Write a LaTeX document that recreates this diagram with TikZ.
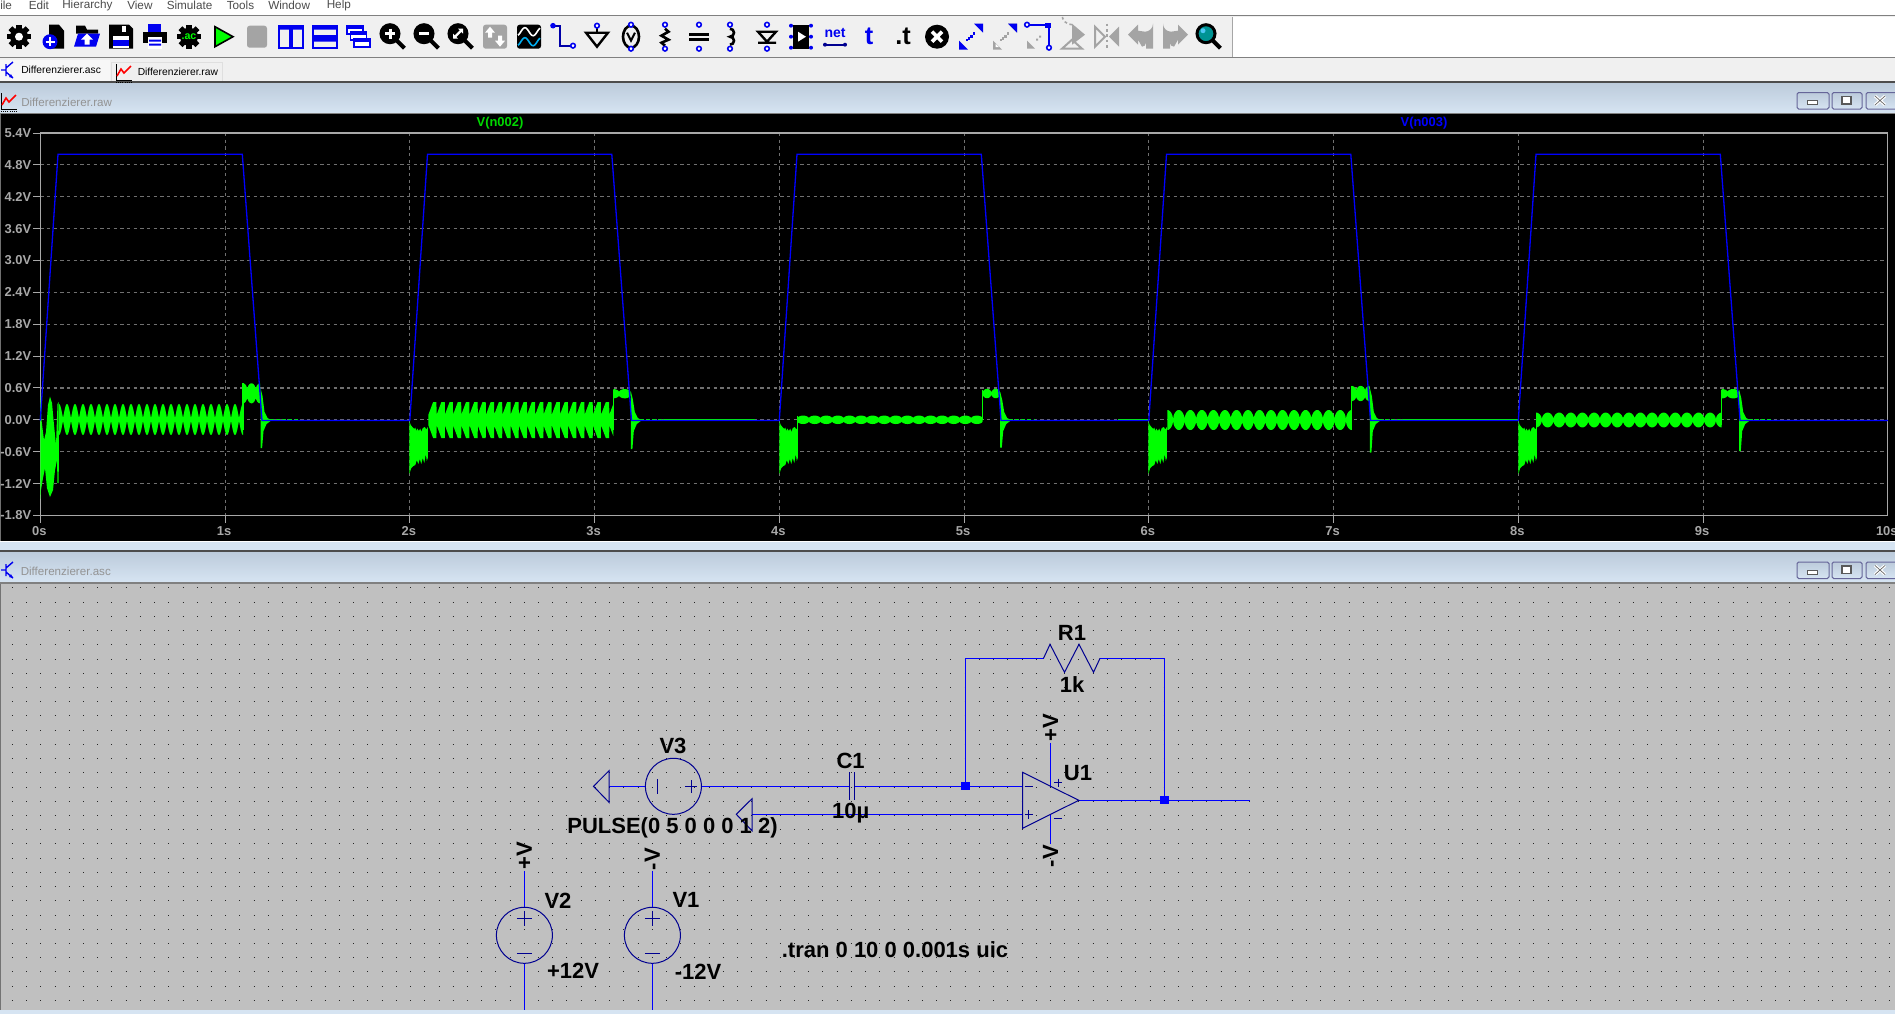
\documentclass[tikz,border=0pt]{standalone}
\usepackage{fontspec}
\setmainfont{Liberation Sans}
\definecolor{gtrace}{HTML}{00FF00}
\definecolor{btrace}{HTML}{0000FF}
\definecolor{axisgray}{HTML}{A8A8A8}
\definecolor{gridgray}{HTML}{707070}
\definecolor{sheet}{HTML}{C0C0C0}
\definecolor{barlo}{HTML}{D6E4F2}
\definecolor{barhi}{HTML}{BCCBDB}
\definecolor{tool}{HTML}{F0F0F0}
\definecolor{wirec}{HTML}{0000FF}
\definecolor{symc}{HTML}{000090}
\definecolor{icgray}{HTML}{A4A4A4}
\definecolor{icblue}{HTML}{0000F0}
\tikzset{
  px/.style={line width=#1*0.75pt},
  wirel/.style={draw=wirec,px=1.4},
  syml/.style={draw=symc,px=1},
  axlab/.style={text=axisgray,font=\fontsize{9.7}{10}\selectfont\bfseries,inner sep=0pt},
  schlab/.style={text=black,font=\fontsize{16.5}{17}\selectfont\bfseries,inner sep=0pt},
  gridl/.style={draw=gridgray,px=1.1,dash pattern=on 2.6pt off 2.4pt},
  junction/.style={fill=wirec,draw=none,minimum width=6.6pt,minimum height=6pt,inner sep=0pt,rectangle},
  srcbody/.style={circle,syml,minimum size=42pt,inner sep=0pt},
  pin/.style={draw=icblue,px=1.6,fill=white},
}
\newcommand\ic[2]{\begin{scope}[shift={({19+34*#1},36.7)}]#2\end{scope}}
\newcommand\pinat[2]{\draw[pin] (#1,#2) circle (2.3);}
\newcommand\gearic{\fill[black] (0,0) circle (9);\foreach \a in {0,45,...,315}{\fill[black,rotate=\a] (-2.7,-12) rectangle (2.7,-7);}}
\newcommand\maglass[1]{\fill[#1] (-3,-3) circle (9);\draw[black,px=3] (-3,-3) circle (9);\draw[black,px=4] (3.5,3.5)--(11.5,11.5);}
\newcommand\moveic[2]{\fill[#1] (12,-13)--(12,-4)--(3,-13)--cycle;\fill[#2] (-12,13)--(-12,4)--(-3,13)--cycle;\foreach \s in {-2,0.5,3}{\fill[#1] (\s-1.3,-\s-1.3) rectangle (\s+1.3,-\s+1.3);}\fill[#1] (-5.5,2.5) rectangle (-3.5,4.5);}
\newcommand\ploticon[2]{\begin{scope}[shift={(#1,#2)}]
  \draw[black,px=1] (-7,-8)--(-7,8)--(9,8);\draw[black,px=1,dash pattern=on 0.8pt off 0.8pt] (-7,10)--(9,10);
  \draw[red,px=1.6] (-6,4)--(-2,-3)--(1,1)--(8,-6);\end{scope}}
\newcommand\transicon[2]{\begin{scope}[shift={(#1,#2)}]
  \draw[icblue,px=1.4] (-7,0)--(-2,0) (-2,-6)--(-2,6) (-2,-2)--(5,-8) (-2,2)--(5,8);\fill[icblue] (5,8)--(1,7)--(3,4)--cycle;\end{scope}}
\newcommand\winbtns{%
  \foreach \a/\b in {1797/1829,1832/1862,1866/1897}{
    \shade[top color=barhi,bottom color=barlo,draw=gray!80!blue,px=1,rounded corners=1.2pt] (\a,92.5) rectangle (\b,109);}
  \fill[white,draw=gray!70!black,px=1] (1807,100.5) rectangle (1817,104.5);
  \draw[gray!70!black,px=1.6,fill=white] (1842,96.5) rectangle (1851,104);
  \draw[white,px=3] (1875,96)--(1885,105) (1885,96)--(1875,105);
  \draw[gray!80!black,px=0.7] (1875,96)--(1885,105) (1885,96)--(1875,105);}
\newcommand\beads[7]{\fill[gtrace] plot[domain=#1:#2,samples=320] ({\x},{#5-#6*(#7+(1-#7)*sqrt(abs(sin(180*(#3*(\x-#1)/(#2-#1)+#4)))))}) -- plot[domain=#2:#1,samples=320] ({\x},{#5+#6*(#7+(1-#7)*sqrt(abs(sin(180*(#3*(\x-#1)/(#2-#1)+#4)))))}) -- cycle;}
\newcommand\sbeads[7]{\fill[gtrace] plot[domain=#1:#2,samples=400] ({\x},{#5-#6*(#7+(1-#7)*abs(sin(180*(#3*(\x-#1)/(#2-#1)+#4))))}) -- plot[domain=#2:#1,samples=400] ({\x},{#5+#6*(#7+(1-#7)*abs(sin(180*(#3*(\x-#1)/(#2-#1)+#4))))}) -- cycle;}
\newcommand\burst[1]{\begin{scope}[shift={(#1,0)}]\fill[gtrace] (0,421.5)--(1.5,425)--(3.5,427.5)--(5,429)--(6,427.5)--(7,431)--(8,428.5)--(9.5,431)--(11,428.5)--(12,432)--(13.5,428)--(15.5,427)--(17,429.5)--(18.5,427)--(18.5,458)--(17.5,461)--(16.5,454)--(15,463)--(13.5,458)--(12,464)--(10.5,459)--(9,464)--(7.5,460)--(6,465)--(4,466)--(2,468)--(1,471)--(0.3,473.5)--(0,473.5)--cycle;\end{scope}}
\newcommand\spike[3]{\fill[gtrace] (#1,#2)--(#1+2,#2+8)--(#1+4,412)--(#1+7,418)--(#1+10,419.6)--(#1+10,421)--(#1+6,424)--(#1+3,431)--(#1+1.6,#3)--(#1,#3)--cycle;}
\newcommand\gdash[2]{\draw[gtrace,px=1.1,dash pattern=on 3pt off 1.6pt] (#1,419.4)--(#2,419.4);}
\newcommand\gsolid[2]{\draw[gtrace,px=1.1] (#1,419.4)--(#2,419.4);}
\begin{document}
\begin{tikzpicture}[x=0.75pt,y=-0.75pt]
\useasboundingbox (0,0) rectangle (1895,1014);
% ---------- menu, toolbar, tabs
\fill[white] (0,0) rectangle (1895,15);
\fill[tool] (0,15) rectangle (1895,82);
\draw[gray,px=1] (0,15.5)--(1895,15.5);
\fill[white] (1232,17) rectangle (1895,57);
\draw[gray!70,px=1] (1232,17)--(1232,57);
\draw[gray,px=1] (0,57.5)--(1895,57.5);
\foreach \n/\t/\xx in {m1/ile/0,m2/Edit/28.5,m3/Hierarchy/62,m4/View/127,m5/Simulate/166.5,m6/Tools/226.5,m7/Window/268,m8/Help/326.5}
  \node[anchor=west,inner sep=0pt,text=black!70,font=\fontsize{8.8}{9}\selectfont] (\n) at (\xx,5) {\t};
\fill[white!97!black] (0,60) rectangle (110,81.5);
\draw[gray!25,px=1] (111,62) rectangle (222,81.5);
\draw[black!70,px=1.4] (0,82)--(1895,82);
\transicon{8}{70}
\ploticon{123}{72}
\node[anchor=west,inner sep=0pt,text=black,font=\fontsize{7.7}{8}\selectfont] (tab1) at (21,70) {Differenzierer.asc};
\node[anchor=west,inner sep=0pt,text=black,font=\fontsize{7.7}{8}\selectfont] (tab2) at (137.5,72) {Differenzierer.raw};
% toolbar icons
\ic{0}{\gearic\fill[white] (0,0) circle (4);}
\ic{1}{\fill[black] (-4,-12)--(6,-12)--(11,-6)--(11,12)--(-4,12)--cycle;\fill[icblue] (-3,5) circle (7.5);\draw[white,px=2.2] (-7.5,5)--(1.5,5) (-3,0.5)--(-3,9.5);}
\ic{2}{\fill[black] (-11,-11)--(-2,-11)--(0,-7)--(11,-7)--(11,-3)--(-11,-3)--cycle;\fill[icblue] (-9,-3)--(13,-3)--(9,10)--(-13,10)--cycle;\fill[white] (0,-3)--(6,3)--(2.5,3)--(2.5,8)--(-2.5,8)--(-2.5,3)--(-6,3)--cycle;}
\ic{3}{\fill[black] (-12,-12)--(8,-12)--(12,-8)--(12,12)--(-12,12)--cycle;\fill[white] (-8,-1) rectangle (8,11);\fill[icblue] (-8,3) rectangle (8,9);\fill[white] (1,-11) rectangle (5,-5);}
\ic{4}{\fill[icblue] (-7,-13) rectangle (6,-5);\fill[black] (-12,-5) rectangle (12,6);\fill[white] (-7,0) rectangle (7,12);\fill[icblue] (-6,3) rectangle (6,5) (-6,7) rectangle (6,9);}
\ic{5}{\gearic\node[inner sep=0pt,text=gtrace,font=\fontsize{8}{8}\selectfont\bfseries] (icac) at (0,0) {.ac};}
\ic{6}{\fill[gtrace,draw=black,px=1.6] (-8,-10)--(10,0)--(-8,10)--cycle;}
\ic{7}{\fill[icgray,rounded corners=2pt] (-10,-11) rectangle (10,11);}
\ic{8}{\draw[icblue,px=1.8] (-12,-11) rectangle (-1,11) (1,-11) rectangle (12,11);\fill[icblue] (-12,-11) rectangle (-1,-7) (1,-11) rectangle (12,-7);}
\ic{9}{\draw[icblue,px=1.8] (-12,-11) rectangle (12,-1) (-12,1) rectangle (12,11);\fill[icblue] (-12,-11) rectangle (12,-7) (-12,1) rectangle (12,5);}
\ic{10}{\foreach \s in {0,1,2}{\fill[white,draw=icblue,px=1.6] (-12+\s*3.5,-11+\s*6.5) rectangle (4+\s*3.5,-3+\s*6.5);\fill[icblue] (-12+\s*3.5,-11+\s*6.5) rectangle (4+\s*3.5,-8+\s*6.5);}}
\ic{11}{\maglass{black}\draw[white,px=3] (-8,-3)--(2,-3) (-3,-8)--(-3,2);}
\ic{12}{\maglass{black}\draw[white,px=3] (-8,-3)--(2,-3);}
\ic{13}{\maglass{black}\draw[white,px=2.4] (-7,1)--(1,-7);\fill[white] (2,-8)--(-3,-8)--(2,-3)--cycle (-8,2)--(-3,2)--(-8,-3)--cycle;}
\ic{14}{\fill[icgray,rounded corners=2pt] (-12,-12) rectangle (12,12);\fill[white] (-5,-10)--(0,-4)--(-3,-4)--(-3,1)--(-7,1)--(-7,-4)--(-10,-4)--cycle (5,10)--(0,4)--(3,4)--(3,-1)--(7,-1)--(7,4)--(10,4)--cycle;}
\ic{15}{\fill[black,rounded corners=2pt] (-12,-12) rectangle (12,12);\draw[white,px=1.6] plot[domain=-11:11,samples=30] ({\x},{-5+4*sin(\x*22)});\draw[cyan,px=1.6] plot[domain=-11:11,samples=30] ({\x},{5+4*sin(\x*22)});}
\ic{16}{\draw[icblue!70!black,px=1.8] (-10,-11)--(-3,-11)--(-3,9)--(8,9);\fill[icblue] (-10,-11) circle (2.8);\pinat{10}{9}}
\ic{17}{\draw[black,px=1.6] (0,-9)--(0,-4);\draw[black,px=2.4] (-11,-4)--(11,-4)--(0,10)--cycle;\pinat{0}{-11}}
\ic{18}{\draw[black,px=2.6] (0,0) ellipse (8 and 11);\draw[black,px=2] (-4,-4)--(0,4)--(4,-4);\pinat{0}{-12}\pinat{0}{12}}
\ic{19}{\draw[black,px=2.6] (0,-8)--(3.5,-5)--(-3.5,-1)--(3.5,3)--(-3.5,6)--(0,9);\pinat{0}{-12}\pinat{0}{12}}
\ic{20}{\draw[black,px=2.6] (-10,-2.5)--(10,-2.5) (-10,2.5)--(10,2.5);\pinat{0}{-12}\pinat{0}{12}}
\ic{21}{\draw[black,px=2.6] (-3,-8) arc (-90:90:4) arc (-90:90:4);\pinat{-3}{-12}\pinat{-3}{12}}
\ic{22}{\draw[black,px=2.4] (-9,-5)--(9,-5)--(0,5)--cycle (-9,6)--(9,6);\pinat{0}{-12}\pinat{0}{12}}
\ic{23}{\fill[black] (-8,-12) rectangle (8,12);\fill[white] (-3,-5)--(5,0)--(-3,5)--cycle;\foreach \py in {-11,0,11}{\fill[icblue] (-10,\py) circle (2);\fill[icblue] (10,\py) circle (2);}}
\ic{24}{\node[inner sep=0pt,text=icblue,font=\fontsize{10.5}{10}\selectfont\bfseries] (icnet) at (0,-4) {net};\draw[symc,px=2.2] (-10,8)--(10,8);\fill[symc] (-10,8) circle (2) (10,8) circle (2);}
\ic{25}{\node[inner sep=0pt,text=icblue,font=\fontsize{19}{19}\selectfont\bfseries] (ict) at (0,0) {t};}
\ic{26}{\node[inner sep=0pt,text=black,font=\fontsize{19}{19}\selectfont\bfseries] (icdt) at (0,0) {.t};}
\ic{27}{\fill[black] (0,0) circle (12);\draw[white,px=3.6] (-5,-5)--(5,5) (-5,5)--(5,-5);}
\ic{28}{\moveic{icblue}{icblue}}
\ic{29}{\moveic{icgray}{icgray}\fill[icblue] (12,-13)--(12,-4)--(3,-13)--cycle;\fill[white] (-9.5,10.5)--(-9.5,7)--(-6,10.5)--cycle;}
\ic{30}{\draw[icblue,px=1.6] (-11,-12)--(10,-12)--(10,10);\fill[icblue] (6,-14) rectangle (12,-9);\pinat{-12}{-12}\pinat{10}{11}\fill[icgray] (-12,12)--(-12,4)--(-4,12)--cycle;\fill[icgray] (-3,2) rectangle (-1,4) (0,-1) rectangle (2,1);}
\ic{31}{\fill[icgray] (-1,-13)--(12,-2)--(-1,8)--cycle;\draw[icgray,px=1.6,dash pattern=on 2pt off 2pt] (-1,-12) arc (90:180:10);\draw[icgray,px=2] (-11,12)--(-1,3)--(9,12)--cycle;}
\ic{32}{\draw[icgray,px=2] (-12,-10)--(-2,0)--(-12,10)--cycle;\fill[icgray] (12,-10)--(2,0)--(12,10)--cycle;\draw[icgray,px=1.6,dash pattern=on 2pt off 2pt] (0,-13)--(0,13);}
\ic{33}{\fill[icgray] (-13,-2)--(-3,-12)--(-3,-6)--(4,-5) arc (90:0:8)--(12,12)--(5,12)--(5,6) arc (0:90:4)--(-3,3)--(-3,8)--cycle;}
\ic{34}{\fill[icgray] (13,-2)--(3,-12)--(3,-6)--(-4,-5) arc (90:180:8)--(-12,12)--(-5,12)--(-5,6) arc (180:90:4)--(3,3)--(3,8)--cycle;}
\ic{35}{\fill[teal!85!cyan] (-3,-3) circle (8);\draw[black,px=3] (-3,-3) circle (9);\draw[black,px=4] (3.5,3.5)--(11.5,11.5);\fill[cyan!70] (-6,-6) circle (2.5);}
% ---------- waveform window
\shade[top color=barhi,bottom color=barlo] (0,83) rectangle (1895,113);
\draw[gray,px=1] (0,113.5)--(1895,113.5);
\ploticon{8}{101}
\node[anchor=west,inner sep=0pt,text=gray!85,font=\fontsize{8.7}{9}\selectfont] (title1) at (21,102) {Differenzierer.raw};
\winbtns
\fill[black] (0,114) rectangle (1895,541);
\fill[gridgray] (0,114) rectangle (1,541);
\foreach \k in {1,...,9}{
  \draw[gridl] ({40.3+184.75*\k},133)--({40.3+184.75*\k},515.3);
  \draw[axisgray,px=1] ({40.3+184.75*\k},515.3)--({40.3+184.75*\k},522.7);}
\draw[axisgray,px=1] (40.3,515.3)--(40.3,522.7);
\foreach \k in {1,...,11}{
  \draw[gridl] (40.3,{133+31.87*\k})--(1887.8,{133+31.87*\k});}
\foreach \k in {0,...,12}{\draw[axisgray,px=1] (33,{133+31.87*\k})--(40.3,{133+31.87*\k});}
\draw[axisgray,px=1.2] (40.3,133) rectangle (1887.8,515.3);
\foreach \n/\t [count=\c from 0] in {a/5.4V,b/4.8V,c/4.2V,d/3.6V,e/3.0V,f/2.4V,g/1.8V,h/1.2V,i/0.6V,j/0.0V,k/-0.6V,l/-1.2V,m/-1.8V}
  \node[axlab,anchor=east] (yl\n) at (31.5,{133+31.87*\c}) {\t};
\foreach \t [count=\c from 0] in {0s,1s,2s,3s,4s,5s,6s,7s,8s,9s,10s}
  \node[axlab] (xl\c) at ({39.3+184.75*\c},531) {\t};
\node[axlab,text=gtrace!85!black] (tr1) at (500,123) {V(n002)};
\node[axlab,text=btrace] (tr2) at (1424,123) {V(n003)};
% green trace
\fill[gtrace] (40.3,392)--(41.5,420)--(44,440)--(46,432)--(48,405)--(50,396.5)--(52,403)--(54,425)--(56,445)--(57.5,404)--(58.5,402)--(59,460)--(58.5,483)--(57.5,483)--(57,460)--(55,470)--(53,490)--(50,497)--(47,488)--(45,468)--(43,478)--(41,490)--(40.5,499)--cycle;
\sbeads{59}{243}{23}{0.5}{419.5}{15.5}{0.08}
\draw[gtrace,px=1.1] (243,430)--(243,383);
\beads{243}{260}{2}{0.5}{393.3}{10}{0.35}
\spike{260.5}{388}{448}
\gdash{270}{298}
\burst{409.3}
\fill[gtrace] plot[domain=428.3:613.3,samples=800] ({\x},{415-13*min(1,1.7*mod(22.5*(\x-428.3)/185,1))}) -- plot[domain=613.3:428.3,samples=800] ({\x},{425+13*min(1,1.7*mod(22.5*(\x-428.3)/185,1))}) -- cycle;
\draw[gtrace,px=1.1] (613.3,430)--(613.3,389.5);
\beads{613.3}{630.5}{1.5}{0.5}{393.7}{4.6}{0.35}
\spike{630.8}{391}{449}
\gdash{640}{663}
\gsolid{663}{755}
\burst{779.3}
\draw[gtrace,px=1.1] (797.5,430)--(797.5,416);
\beads{797.3}{982.7}{16}{0}{419.8}{4.2}{0.35}
\draw[gtrace,px=1.1] (982.7,420)--(982.7,389.5);
\beads{982.7}{1000}{2}{0}{393.5}{4.7}{0.15}
\spike{1000.2}{392}{447.5}
\gdash{1009}{1035}
\gsolid{1118}{1149}
\burst{1148.3}
\beads{1167.3}{1351.7}{16}{0.5}{420}{10}{0.05}
\draw[gtrace,px=1.1] (1351.7,430)--(1351.7,386);
\beads{1351.7}{1369.5}{2}{0.5}{393.5}{7.6}{0.35}
\spike{1369.8}{388}{452.7}
\gdash{1379}{1402}
\gsolid{1402}{1519}
\burst{1518.3}
\draw[gtrace,px=1.1] (1536.2,430)--(1536.2,413);
\beads{1536}{1721.7}{16}{0.5}{420}{7.4}{0.08}
\draw[gtrace,px=1.1] (1721.7,425)--(1721.7,389.5);
\beads{1721.7}{1739}{1.5}{0.5}{393.7}{4.7}{0.35}
\spike{1739.2}{390}{451}
\gdash{1749}{1773}
% blue trace
\draw[btrace,px=1.3] (40.3,420.5) \foreach \x in {40.3,409.8,779.3,1148.8,1518.3}{ -- ({\x+17.7},154.3) -- ({\x+202},154.3) -- ({\x+221.7},420.5) -- ({\x+369.5},420.5)};
% ---------- lower window chrome
\fill[barlo] (0,541) rectangle (1895,551);
\fill[white] (0,541) rectangle (1895,542);
\fill[black!70] (0,550) rectangle (1895,552);
\shade[top color=barhi,bottom color=barlo] (0,552) rectangle (1895,582);
\draw[gray,px=1.4] (0,583)--(1895,583);
\transicon{8}{570}
\node[anchor=west,inner sep=0pt,text=gray!85,font=\fontsize{8.7}{9}\selectfont] (title2) at (20.5,571) {Differenzierer.asc};
\begin{scope}[shift={(0,469.5)}]\winbtns\end{scope}
% ---------- schematic
\fill[sheet] (0,584) rectangle (1895,1010);
\fill[gray!90!black] (0,584) rectangle (1,1010);
\fill[barlo] (0,1010) rectangle (1895,1014);
\foreach \j in {0,...,29}
  \draw[black!85,line width=0.62pt,dash pattern=on 0.62pt off 10.045pt] (11.9,{587.9+14.22*\j})--(1895,{587.9+14.22*\j});
% named points
\coordinate (gndA) at (609,786.3);
\coordinate (capL) at (849,786.3);
\coordinate (capR) at (854.8,786.3);
\coordinate (nA) at (965.4,786.3);
\coordinate (inM) at (1022.5,786.3);
\coordinate (inP) at (1022.5,814.3);
\coordinate (gndB) at (752,814.3);
\coordinate (oTop) at (1022.5,772.3);
\coordinate (oBot) at (1022.5,828.3);
\coordinate (oOut) at (1078.8,800.3);
\coordinate (nB) at (1164.5,800.3);
\coordinate (outEnd) at (1250,800.3);
\coordinate (rTL) at (965.4,658.3);
\coordinate (rL) at (1043.5,658.3);
\coordinate (rR) at (1100,658.3);
\coordinate (rTR) at (1164.5,658.3);
\coordinate (supT) at (1050.6,742.7);
\coordinate (supTe) at (1050.6,786.5);
\coordinate (supB) at (1050.6,844);
\coordinate (supBe) at (1050.6,814.5);
\coordinate (v2T) at (524.4,870.7);
\coordinate (v2B) at (524.4,1010);
\coordinate (v1T) at (652.4,870.7);
\coordinate (v1B) at (652.4,1010);
% sources
\node[srcbody] (V3b) at (673.4,786.3) {};
\node[srcbody] (V2b) at (524.4,935.3) {};
\node[srcbody] (V1b) at (652.4,935.3) {};
% wires
\draw[wirel] (gndA)--(V3b.west) (V3b.east)--(capL) (capR)--(nA)--(inM) (inP)--(gndB);
\draw[wirel] (nA)--(rTL)--(rL) (rR)--(rTR)--(nB) (oOut)--(nB)--(outEnd);
\draw[wirel] (supT)--(supTe) (supB)--(supBe);
\draw[wirel] (v2T)--(V2b.north) (V2b.south)--(v2B) (v1T)--(V1b.north) (V1b.south)--(v1B);
% symbols
\draw[syml] (rL)--(1050,644.3)--(1064.5,672.3)--(1079,644.3)--(1093.5,672.3)--(rR);
\draw[syml] (849,772)--(849,800) (854.8,772)--(854.8,800);
\draw[syml] (gndA)--(609,770.7)--(593.5,786.3)--(609,802.3)--cycle;
\draw[syml] (gndB)--(752,798.7)--(736.3,814.3)--(752,830.7)--cycle;
\draw[syml] (oTop)--(oOut)--(oBot)--cycle;
\draw[syml] (1024.5,786.3)--(1033,786.3) (1024.5,814.3)--(1033,814.3) (1028.8,810)--(1028.8,818.5);
\draw[syml] (1054,782.7)--(1062,782.7) (1058,778.7)--(1058,786.7) (1054,818.7)--(1062,818.7);
\draw[syml] (657,779)--(657,793.5) (685,786.3)--(697,786.3) (691,780)--(691,792.5);
\foreach \cx in {524.4,652.4}{
  \draw[syml] ({\cx-7.5},918)--({\cx+7.5},918) (\cx,910.5)--(\cx,925.5) ({\cx-7.5},953.5)--({\cx+7.5},953.5);}
\node[junction] (jA) at (nA) {};
\node[junction] (jB) at (nB) {};
% labels
\node[schlab] (lR1) at (1072,633.3) {R1};
\node[schlab] (l1k) at (1072,685) {1k};
\node[schlab] (lV3) at (673,746) {V3};
\node[schlab] (lC1) at (850.6,761) {C1};
\node[schlab] (l10u) at (850.6,813.5) {10µ};
\node[schlab] (lU1) at (1078,772.7) {U1};
\node[schlab] (lP) at (672.5,827.5) {PULSE(0 5 0 0 0 1 2)};
\node[schlab] (lV2) at (558,900.4) {V2};
\node[schlab] (lV1) at (686,900.4) {V1};
\node[schlab] (lp12) at (573,971) {+12V};
\node[schlab] (lm12) at (698,971.5) {-12V};
\node[schlab] (ltr) at (895,950) {.tran 0 10 0 0.001s uic};
\node[schlab,rotate=90] (lvp) at (1050.6,728) {+V};
\node[schlab,rotate=90] (lvm) at (1050.6,856) {-V};
\node[schlab,rotate=90] (lv2) at (524.4,856) {+V};
\node[schlab,rotate=90] (lv1) at (652.4,859) {-V};
\end{tikzpicture}
\end{document}
